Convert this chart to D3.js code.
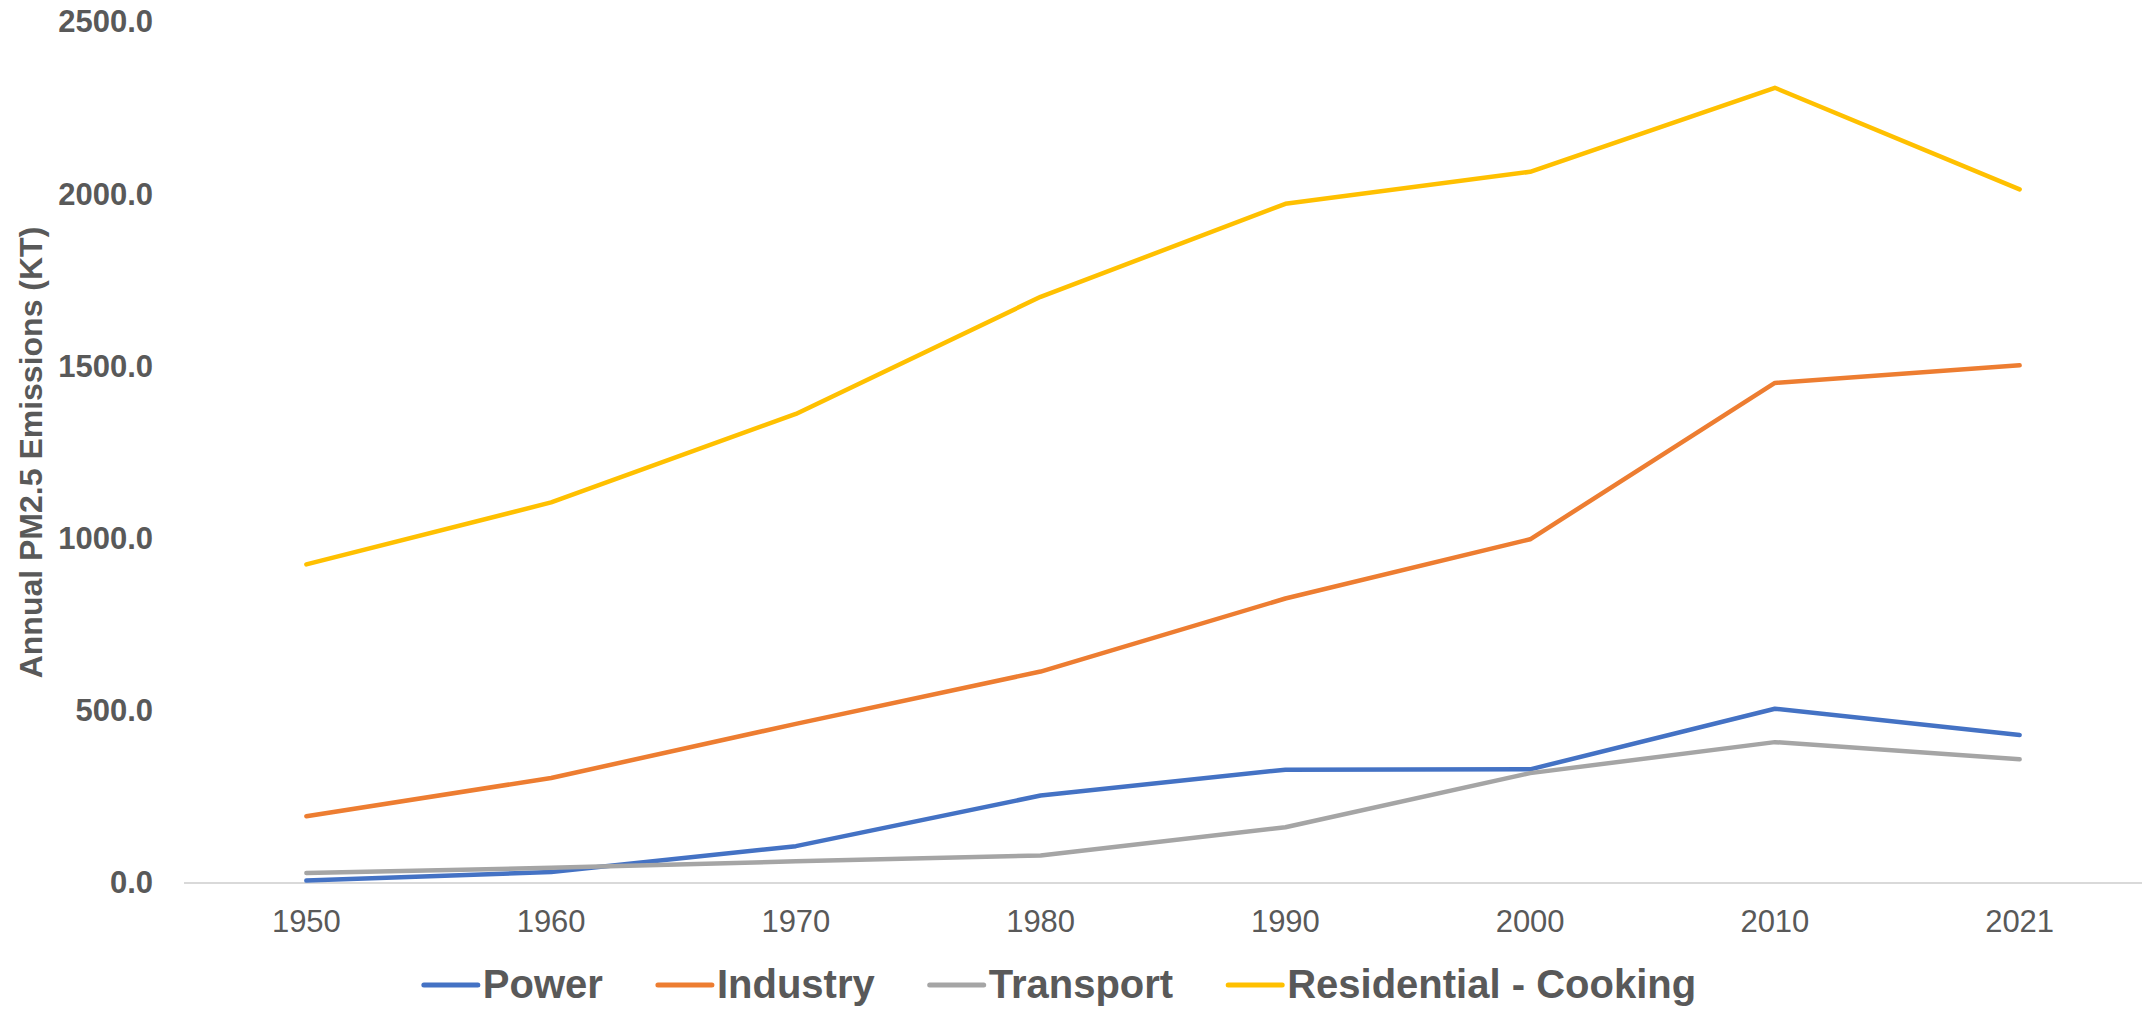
<!DOCTYPE html>
<html>
<head>
<meta charset="utf-8">
<script src="https://cdn.jsdelivr.net/npm/d3@7"></script>
<style>
  html, body { margin: 0; padding: 0; background: #fff; }
  svg { display: block; }
  text { font-family: "Liberation Sans", Arial, sans-serif; fill: #595959; }
</style>
</head>
<body>
<svg id="chart" width="2149" height="1009"></svg>
<script>
const years = ["1950", "1960", "1970", "1980", "1990", "2000", "2010", "2021"];
const power = [7, 32, 107, 254, 329, 330, 506, 430];
const industry = [194, 305, 462, 614, 826, 998, 1452, 1503];
const transport = [29, 44, 63, 80, 162, 319, 409, 359];
const residential = [925, 1105, 1362, 1702, 1972, 2065, 2309, 2014];
const seriesNames = ["Power", "Industry", "Transport", "Residential - Cooking"];
const seriesColors = ["#4472C4", "#ED7D31", "#A5A5A5", "#FFC000"];
const yTicks = [0, 500, 1000, 1500, 2000, 2500];
const yTitle = "Annual PM2.5 Emissions (KT)";

(function () {
const series = [power, industry, transport, residential].map((v, i) => ({
  name: seriesNames[i], color: seriesColors[i], values: v
}));

const svg = d3.select("#chart");
const mLeft = 184, mRight = 2142, mTop = 22, mBottom = 883;

const x = d3.scaleBand().domain(years).range([mLeft, mRight]).padding(0);
const y = d3.scaleLinear().domain([0, 2500]).range([mBottom, mTop]);

// baseline
svg.append("line")
  .attr("x1", mLeft).attr("x2", mRight)
  .attr("y1", y(0)).attr("y2", y(0))
  .attr("stroke", "#D9D9D9").attr("stroke-width", 2);

// y axis labels
const yAxis = d3.axisLeft(y).tickValues(yTicks).tickSize(0).tickPadding(0)
  .tickFormat(d => d3.format(".1f")(d));
const gy = svg.append("g").attr("transform", `translate(153,0)`).call(yAxis);
gy.select(".domain").remove();
gy.selectAll("text")
  .attr("font-size", 31).attr("font-weight", "bold")
  .attr("fill", "#595959")
  .style("font-family", '"Liberation Sans", Arial, sans-serif');

// x axis labels
const xAxis = d3.axisBottom(x).tickSize(0).tickPadding(0);
const gx = svg.append("g").attr("transform", `translate(0,${mBottom})`).call(xAxis);
gx.select(".domain").remove();
gx.selectAll("text")
  .attr("font-size", 31)
  .attr("dy", null)
  .attr("y", 49)
  .attr("fill", "#595959")
  .style("font-family", '"Liberation Sans", Arial, sans-serif');

// y title
svg.append("text")
  .attr("transform", `translate(42,${(mTop + mBottom) / 2}) rotate(-90)`)
  .attr("text-anchor", "middle")
  .attr("font-size", 32).attr("font-weight", "bold")
  .text(yTitle);

// lines
const line = d3.line()
  .x((d, i) => x(years[i]) + x.bandwidth() / 2)
  .y(d => y(d));

svg.append("g").selectAll("path").data(series).join("path")
  .attr("d", d => line(d.values))
  .attr("fill", "none")
  .attr("stroke", d => d.color)
  .attr("stroke-width", 4.5)
  .attr("stroke-linejoin", "round")
  .attr("stroke-linecap", "round");

// legend
const legend = svg.append("g");
const legY = 985;
const items = [];
series.forEach((s) => {
  const g = legend.append("g");
  g.append("line").attr("x1", 0).attr("x2", 54).attr("y1", 0).attr("y2", 0)
    .attr("stroke", s.color).attr("stroke-width", 5).attr("stroke-linecap", "round");
  const t = g.append("text").attr("x", 59).attr("y", 13)
    .attr("font-size", 40).attr("font-weight", "bold").text(s.name);
  const w = 59 + t.node().getComputedTextLength();
  items.push({ g, w });
});
const gap = 55;
const total = items.reduce((a, b) => a + b.w, 0) + gap * (items.length - 1);
let cx = 1060 - total / 2;
items.forEach(it => {
  it.g.attr("transform", `translate(${cx},${legY})`);
  cx += it.w + gap;
});
})();
</script>
</body>
</html>
